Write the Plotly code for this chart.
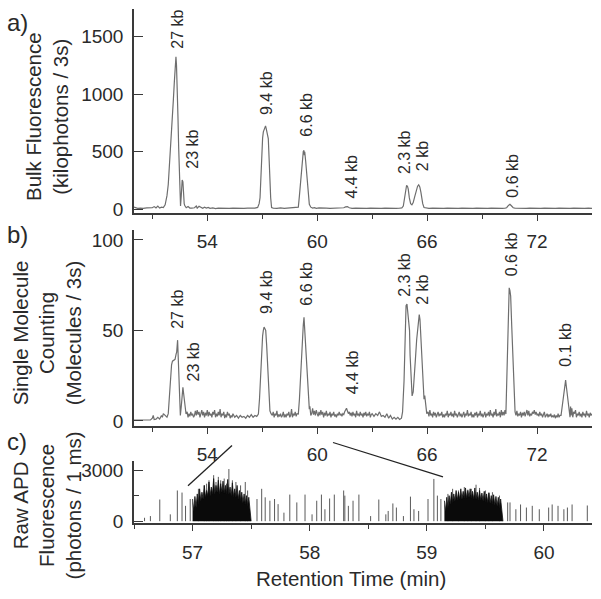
import plotly.graph_objects as go

# ---------------- data: panel a (bulk fluorescence) ----------------
T_A = [50.0, 50.1, 50.2, 50.35, 50.5, 50.7, 50.9, 51.0, 51.1, 51.2, 51.3, 51.4, 51.5, 51.6, 51.7, 51.8, 51.87, 51.94,
       52.0, 52.08, 52.15, 52.2, 52.24, 52.29, 52.32, 52.36, 52.4, 52.44, 52.48, 52.51, 52.54, 52.58, 52.63, 52.67,
       52.7, 52.74, 52.77, 52.85, 52.95, 53.05, 53.15, 53.3, 53.4, 53.45, 53.55, 53.65, 53.75, 53.85, 53.95, 54.05,
       54.15, 54.3, 54.45, 54.6, 54.8, 55.0, 55.2, 55.4, 55.6, 55.8, 56.0, 56.2, 56.4, 56.6, 56.75, 56.83, 56.88,
       56.93, 56.97, 57.02, 57.06, 57.12, 57.18, 57.22, 57.28, 57.33, 57.38, 57.42, 57.46, 57.51, 57.6, 57.8, 58.0,
       58.2, 58.4, 58.6, 58.8, 58.92, 58.97, 59.03, 59.1, 59.15, 59.2, 59.24, 59.28, 59.3, 59.32, 59.37, 59.42, 59.48,
       59.54, 59.57, 59.65, 59.75, 59.85, 59.95, 60.1, 60.3, 60.5, 60.7, 60.9, 61.1, 61.3, 61.45, 61.55, 61.65, 61.75,
       61.9, 62.1, 62.3, 62.5, 62.7, 62.9, 63.1, 63.3, 63.5, 63.7, 63.9, 64.1, 64.3, 64.5, 64.62, 64.7, 64.75, 64.79,
       64.84, 64.88, 64.93, 64.97, 65.03, 65.1, 65.17, 65.24, 65.32, 65.4, 65.48, 65.54, 65.6, 65.66, 65.7, 65.76,
       65.83, 65.95, 66.1, 66.3, 66.5, 66.7, 66.9, 67.1, 67.3, 67.5, 67.7, 67.9, 68.1, 68.3, 68.5, 68.7, 68.9, 69.1,
       69.3, 69.5, 69.7, 69.9, 70.1, 70.25, 70.34, 70.44, 70.52, 70.6, 70.7, 70.8, 71.0, 71.2, 71.4, 71.6, 71.8, 72.0,
       72.2, 72.4, 72.6, 72.8, 73.0, 73.2, 73.4, 73.6, 73.8, 74.0, 74.2, 74.4, 74.6, 74.8, 75.0]
Y_A = [20, 12, 10, 12, 10, 14, 12, 15, 25, 14, 30, 12, 20, 17, 40, 120, 216, 380,
       529, 760, 955, 1100, 1239, 1324, 1250, 1097, 800, 529, 250, 45, 30, 120, 256, 240,
       102, 50, 34, 15, 25, 12, 12, 15, 30, 12, 28, 18, 10, 20, 12, 18,
       10, 14, 8, 12, 10, 14, 10, 12, 10, 14, 10, 12, 10, 12, 18, 50, 102,
       300, 529, 620, 673, 705, 725, 700, 650, 615, 420, 220, 102, 17, 12, 10, 14,
       10, 12, 10, 12, 14, 20, 120, 270, 386, 460, 503, 512, 470, 500, 420, 330, 190,
       80, 45, 20, 12, 16, 10, 14, 10, 12, 10, 12, 10, 12, 15, 22, 25, 15,
       10, 12, 10, 14, 10, 12, 10, 12, 10, 12, 10, 12, 10, 12, 14, 30, 80, 130,
       185, 210, 200, 176, 100, 50, 40, 60, 110, 165, 202, 213, 195, 150, 102, 50,
       17, 12, 10, 12, 10, 12, 10, 12, 10, 12, 10, 12, 10, 12, 10, 12, 10, 12,
       10, 12, 10, 12, 10, 12, 15, 35, 45, 32, 15, 12, 10, 12, 10, 12, 10, 12,
       10, 12, 10, 12, 10, 12, 10, 12, 10, 12, 10, 12, 10, 12, 10]

# ---------------- data: panel b (single molecule counting) ----------------
T_B = [50.0, 50.3, 50.6, 50.9, 51.0, 51.05, 51.1, 51.2, 51.3, 51.4, 51.5, 51.55, 51.6, 51.7, 51.8, 51.87, 51.93,
       52.0, 52.05, 52.1, 52.17, 52.24, 52.3, 52.33, 52.38, 52.42, 52.46, 52.5, 52.53, 52.58, 52.62, 52.67, 52.71,
       52.75, 52.8, 52.84, 52.9, 52.95, 53.0, 53.05, 53.1, 53.15, 53.2, 53.25, 53.3, 53.35, 53.4, 53.45, 53.5,
       53.55, 53.6, 53.65, 53.7, 53.75, 53.8, 53.85, 53.9, 53.95, 54.0, 54.05, 54.1, 54.15, 54.2, 54.25, 54.3,
       54.35, 54.4, 54.45, 54.5, 54.55, 54.6, 54.65, 54.7, 54.75, 54.8, 54.85, 54.9, 54.95, 55.0, 55.05, 55.1,
       55.15, 55.2, 55.25, 55.3, 55.35, 55.4, 55.5, 55.6, 55.7, 55.8, 55.9, 56.0, 56.1, 56.2, 56.3, 56.4, 56.5,
       56.6, 56.7, 56.79, 56.85, 56.91, 56.96, 57.02, 57.06, 57.1, 57.14, 57.19, 57.24, 57.29, 57.35, 57.42,
       57.48, 57.55, 57.6, 57.65, 57.7, 57.75, 57.8, 57.85, 57.9, 57.95, 58.0, 58.05, 58.1, 58.15, 58.2, 58.25,
       58.3, 58.35, 58.4, 58.45, 58.5, 58.55, 58.6, 58.65, 58.7, 58.75, 58.8, 58.85, 58.9, 58.97, 59.03, 59.1,
       59.15, 59.2, 59.24, 59.28, 59.31, 59.35, 59.4, 59.46, 59.52, 59.57, 59.6, 59.65, 59.7, 59.75, 59.8,
       59.85, 59.9, 59.95, 60.0, 60.05, 60.1, 60.15, 60.2, 60.25, 60.3, 60.35, 60.4, 60.45, 60.5, 60.55, 60.6,
       60.65, 60.7, 60.75, 60.8, 60.85, 60.9, 60.95, 61.0, 61.05, 61.1, 61.15, 61.2, 61.25, 61.3, 61.35, 61.4,
       61.45, 61.5, 61.55, 61.6, 61.65, 61.7, 61.75, 61.8, 61.85, 61.9, 61.95, 62.0, 62.05, 62.1, 62.15, 62.2,
       62.25, 62.3, 62.35, 62.4, 62.45, 62.5, 62.55, 62.6, 62.65, 62.7, 62.75, 62.8, 62.85, 62.9, 62.95, 63.0,
       63.1, 63.2, 63.3, 63.4, 63.5, 63.6, 63.7, 63.8, 63.9, 64.0, 64.1, 64.2, 64.3, 64.4, 64.5, 64.6, 64.66,
       64.74, 64.8, 64.85, 64.9, 64.95, 65.0, 65.04, 65.07, 65.12, 65.18, 65.24, 65.29, 65.36, 65.43, 65.49,
       65.53, 65.57, 65.61, 65.66, 65.72, 65.76, 65.8, 65.83, 65.87, 65.9, 65.95, 65.98, 66.05, 66.1, 66.15,
       66.2, 66.25, 66.3, 66.35, 66.4, 66.45, 66.5, 66.55, 66.6, 66.65, 66.7, 66.75, 66.8, 66.85, 66.9, 66.95,
       67.0, 67.05, 67.1, 67.15, 67.2, 67.25, 67.3, 67.35, 67.4, 67.45, 67.5, 67.55, 67.6, 67.65, 67.7, 67.75,
       67.8, 67.85, 67.9, 67.95, 68.0, 68.05, 68.1, 68.15, 68.2, 68.25, 68.3, 68.35, 68.4, 68.45, 68.5, 68.55,
       68.6, 68.65, 68.7, 68.75, 68.8, 68.85, 68.9, 68.95, 69.0, 69.05, 69.1, 69.15, 69.2, 69.25, 69.3, 69.35,
       69.4, 69.45, 69.5, 69.55, 69.6, 69.65, 69.7, 69.75, 69.8, 69.85, 69.9, 69.95, 70.0, 70.05, 70.1, 70.15,
       70.2, 70.25, 70.3, 70.35, 70.39, 70.44, 70.48, 70.52, 70.56, 70.62, 70.67, 70.72, 70.76, 70.8, 70.85,
       70.9, 70.95, 71.0, 71.05, 71.1, 71.15, 71.2, 71.25, 71.3, 71.35, 71.4, 71.45, 71.5, 71.55, 71.6, 71.65,
       71.7, 71.75, 71.8, 71.85, 71.9, 71.95, 72.0, 72.05, 72.1, 72.15, 72.2, 72.25, 72.3, 72.35, 72.4, 72.45,
       72.5, 72.55, 72.6, 72.65, 72.7, 72.75, 72.8, 72.85, 72.9, 72.95, 73.0, 73.05, 73.1, 73.15, 73.2, 73.25,
       73.31, 73.38, 73.43, 73.47, 73.52, 73.56, 73.6, 73.65, 73.7, 73.76, 73.8, 73.83, 73.86, 73.9, 73.95,
       74.0, 74.05, 74.1, 74.15, 74.2, 74.25, 74.3, 74.35, 74.4, 74.45, 74.5, 74.55, 74.6, 74.65, 74.7, 74.75,
       74.8, 74.85, 74.9, 74.95, 75.0]
Y_B = [0.5, 0.5, 0.8, 0.5, 1.5, 3, 0.8, 1, 2, 1, 3, 2, 4, 3, 2, 4, 15,
       27, 31, 33, 33.5, 34, 37, 38, 44.6, 35, 25.5, 10, 3, 8, 14.7, 18.6, 15,
       11, 6, 3.8, 5, 2, 4, 2.5, 5, 3, 4, 2, 3, 5.5, 3, 6, 3.5,
       5, 2, 4, 6, 3, 5, 2, 4.5, 3, 6, 2.5, 5, 3, 4, 2, 5,
       3.5, 6, 2, 4, 2.5, 5, 3, 6.5, 2, 4, 3, 5, 1.5, 3.5, 2, 5,
       3, 4, 1.5, 3, 2, 4, 2, 3, 1.5, 3, 2, 2.5, 1.5, 3, 2, 3.5, 2,
       3, 2.5, 3.8, 12, 25.5, 37, 47, 50, 51.8, 51, 50, 42, 31, 16, 5.6,
       4, 3, 5, 2, 4, 3, 5.5, 2, 3.5, 2.5, 4, 2, 3, 5, 2, 3.5,
       2, 4, 3, 5, 2, 3, 6.5, 2, 4, 3, 5, 2.5, 4, 3.8, 12, 25.5,
       40, 51, 53, 57.2, 52, 47, 36, 22, 12, 6.5, 8, 3, 4, 7, 3.5,
       5.5, 3, 6, 4, 2.5, 5, 3, 6, 3.5, 5, 2, 4.5, 3, 5.5, 2.5, 4,
       3, 5, 2, 4, 3, 5, 2.5, 3.5, 2, 4, 3, 5, 3, 4, 2.5, 4,
       3.5, 5, 6, 7, 5.5, 4, 5, 3, 4.5, 2.5, 5, 3, 4, 2, 5.5, 3,
       4, 2.5, 5, 3, 4, 2, 4.5, 3, 5, 2.5, 4, 3, 5, 2, 3.5, 4,
       2.5, 4, 3, 5, 2.5, 3, 2, 4, 1.5, 3, 1, 2, 1, 2, 0.8, 1.5, 5,
       22, 45, 63.6, 64.5, 60, 54.5, 50, 36.4, 22, 13.8, 16, 22, 34, 45, 53,
       58, 58.7, 56, 46, 36, 25, 13, 12, 14, 10, 6, 4, 5, 2.5, 6,
       3, 4, 2, 5, 3, 4.5, 2, 3.5, 5, 2.5, 4, 3, 5, 2, 3.5, 2,
       4, 3, 5.5, 2, 4, 3, 5, 2.5, 4, 2, 5.5, 3, 4, 2, 3.5, 5,
       2.5, 4, 2, 3.5, 5, 2, 4, 3, 6, 2.5, 4, 3, 5, 2, 3.5, 2,
       4.5, 3, 5, 2, 4, 3, 5.5, 2.5, 4, 2, 3.5, 5, 2, 4, 3, 5,
       2.5, 6, 3, 4, 2, 5, 3, 6.5, 2.5, 4, 3, 5, 2, 6, 3, 5,
       3, 6, 3.8, 20, 40, 60, 73.5, 72, 69, 52, 36, 20, 10, 5, 3,
       5.5, 2.5, 4, 3, 5, 2, 4.5, 3, 5, 2.5, 4, 6, 3, 5.5, 2.5, 4,
       3, 5, 4, 6, 3.5, 5, 3, 4, 2.5, 5, 3, 4, 2, 3.5, 5, 2,
       3, 4, 2, 3.5, 2.5, 4, 2, 3, 2, 3.5, 1.5, 3, 2, 4, 2, 3,
       3, 9, 14, 16.5, 20, 22.5, 19, 14.7, 9, 6, 2, 8, 3, 7, 2,
       5, 4, 6, 2, 4, 3, 5, 2.5, 4, 2, 5, 3, 4, 2, 5.5, 3,
       4, 2, 4.5, 3, 4]

# ---------------- data: panel c (raw APD photon bursts) ----------------
DENSE1_T = [57.00, 57.01, 57.02, 57.03, 57.04, 57.05, 57.06, 57.07, 57.08, 57.09, 57.10, 57.11, 57.12, 57.13,
            57.14, 57.15, 57.16, 57.17, 57.18, 57.19, 57.20, 57.21, 57.22, 57.23, 57.24, 57.25, 57.26, 57.27,
            57.28, 57.29, 57.30, 57.31, 57.32, 57.33, 57.34, 57.35, 57.36, 57.37, 57.38, 57.39, 57.40, 57.41,
            57.42, 57.43, 57.44, 57.45, 57.46, 57.47, 57.48, 57.49, 57.50]
DENSE1_H = [1300, 600, 1450, 800, 1600, 1000, 1900, 1200, 1700, 1300, 2100, 1400, 1800, 1500,
            2300, 1500, 2000, 1600, 2500, 1600, 2100, 1700, 2400, 1600, 2200, 1700, 2350, 1650,
            2100, 1600, 2450, 1600, 2000, 1500, 2250, 1450, 1900, 1400, 2100, 1300, 1800, 1200,
            1700, 1100, 1600, 1000, 1500, 900, 1400, 700, 0]
DENSE2_T = [59.15, 59.16, 59.17, 59.18, 59.19, 59.20, 59.21, 59.22, 59.23, 59.24, 59.25, 59.26, 59.27, 59.28,
            59.29, 59.30, 59.31, 59.32, 59.33, 59.34, 59.35, 59.36, 59.37, 59.38, 59.39, 59.40, 59.41, 59.42,
            59.43, 59.44, 59.45, 59.46, 59.47, 59.48, 59.49, 59.50, 59.51, 59.52, 59.53, 59.54, 59.55, 59.56,
            59.57, 59.58, 59.59, 59.60, 59.61, 59.62, 59.63, 59.64, 59.65]
DENSE2_H = [1200, 600, 1400, 800, 1500, 1000, 1700, 1100, 1600, 1200, 1800, 1250, 1700, 1300,
            1900, 1300, 1750, 1350, 1950, 1350, 1800, 1400, 1900, 1350, 1750, 1300, 1950, 1300,
            1700, 1250, 1800, 1250, 1650, 1200, 1750, 1150, 1600, 1100, 1650, 1050, 1500, 1000,
            1550, 950, 1450, 900, 1400, 800, 1300, 700, 0]
SPIKE_T = [56.59, 56.64, 56.72, 56.81, 56.87, 56.91, 56.94, 56.98,
           57.05, 57.10, 57.12, 57.14, 57.18, 57.20, 57.22, 57.24, 57.27, 57.29, 57.31, 57.34, 57.37, 57.41,
           57.45, 57.47,
           57.55, 57.59, 57.62, 57.66, 57.70, 57.73, 57.78, 57.83, 57.89, 57.96, 58.02, 58.06, 58.10, 58.13,
           58.17, 58.21, 58.29, 58.30, 58.33, 58.37, 58.42, 58.52, 58.59, 58.65, 58.67, 58.71, 58.74, 58.80,
           58.86, 58.89, 58.93, 59.01, 59.06, 59.09, 59.12,
           59.18, 59.22, 59.27, 59.32, 59.35, 59.38, 59.42, 59.45, 59.50, 59.53, 59.56, 59.62,
           59.69, 59.71, 59.76, 59.80, 59.85, 59.90, 59.96, 60.04, 60.07, 60.12, 60.17, 60.20, 60.24, 60.37]
SPIKE_H = [200, 300, 1270, 400, 1800, 1680, 900, 1300,
           1900, 2100, 2200, 2400, 2700, 2300, 2600, 2400, 2500, 2200, 3060, 2400, 2300, 2100,
           2300, 1800,
           1300, 1900, 1400, 1200, 1300, 1000, 500, 1560, 1100, 1560, 400, 1200, 1560, 700,
           1330, 1560, 1800, 1500, 900, 1200, 1560, 300, 1270, 400, 600, 1040, 800, 300,
           1440, 700, 600, 1300, 2480, 1500, 1300,
           1600, 1900, 1800, 2000, 1850, 1900, 2140, 1950, 1800, 1700, 1700, 1500,
           1100, 1100, 700, 980, 800, 900, 700, 800, 980, 900, 700, 800, 980, 920]

# ---------------- tick / label data ----------------
TOP_TICKS = [54, 60, 66, 72]
TOP_MINOR = [51, 57, 63, 69]
C_TICKS = [57, 58, 59, 60]
C_MINOR = [56.5, 57.5, 58.5, 59.5]
A_YTICKS = [0, 500, 1000, 1500]
B_YTICKS = [0, 50, 100]
C_YTICKS = [0, 3000]

LABELS_A = ["27 kb", "23 kb", "9.4 kb", "6.6 kb", "4.4 kb", "2.3 kb", "2 kb", "0.6 kb"]
LAB_A_T = [52.40, 53.22, 57.20, 59.44, 61.90, 64.74, 65.72, 70.69]
LAB_A_Y = [1381, 341, 801, 614, 77, 290, 315, 85]
LABELS_B = ["27 kb", "23 kb", "9.4 kb", "6.6 kb", "4.4 kb", "2.3 kb", "2 kb", "0.6 kb", "0.1 kb"]
LAB_B_T = [52.40, 53.22, 57.26, 59.44, 61.90, 64.79, 65.77, 70.58, 73.58]
LAB_B_Y = [50, 21, 58, 62.5, 13.6, 67.4, 63, 78.8, 28.8]

W, H = 601, 599
FONT = "Liberation Sans, Arial, sans-serif"
TXT = "#2a2a2a"
AX = "#3a3a3a"
TRACE = "#6e6e6e"


def px(x):
    return x / W


def py(y):
    return 1 - y / H


fig = go.Figure()
fig.add_trace(go.Scatter(x=T_A, y=Y_A, mode="lines", line=dict(color=TRACE, width=1.2),
                         xaxis="x", yaxis="y", showlegend=False))
fig.add_trace(go.Scatter(x=T_B, y=Y_B, mode="lines", line=dict(color=TRACE, width=1.2),
                         xaxis="x2", yaxis="y2", showlegend=False))

# spikes in panel c
sx, sy = [], []
for t, h in zip(SPIKE_T, SPIKE_H):
    sx += [t, t, None]
    sy += [0, h, None]
fig.add_trace(go.Scatter(x=sx, y=sy, mode="lines", line=dict(color="#5a5a5a", width=1),
                         xaxis="x3", yaxis="y3", showlegend=False))
for dt, dh in ((DENSE1_T, DENSE1_H), (DENSE2_T, DENSE2_H)):
    fig.add_trace(go.Scatter(x=dt, y=dh, mode="lines", fill="tozeroy", fillcolor="#0a0a0a",
                             line=dict(color="#111111", width=0.8), xaxis="x3", yaxis="y3",
                             showlegend=False))

tickfont = dict(family=FONT, size=19, color=TXT)
common_x = dict(showline=True, linecolor=AX, linewidth=2, ticks="outside", tickcolor=AX, tickwidth=1.3,
                ticklen=6, showgrid=False, zeroline=False, tickfont=tickfont)
common_y = dict(showline=True, linecolor=AX, linewidth=1.5, ticks="inside", tickcolor=AX, tickwidth=1.3,
                ticklen=9, showgrid=False, zeroline=False, tickfont=tickfont, ticklabelstandoff=5)

fig.update_layout(
    width=W, height=H, margin=dict(l=0, r=0, t=0, b=0),
    paper_bgcolor="white", plot_bgcolor="white",
    xaxis=dict(domain=[px(134), px(592)], range=[50, 75], anchor="y", tickvals=TOP_TICKS,
               minor=dict(tickvals=TOP_MINOR, ticks="outside", ticklen=4, tickcolor=AX, tickwidth=1.3),
               ticklabelstandoff=4, **common_x),
    yaxis=dict(domain=[py(216), py(8)], range=[-34, 1740], anchor="x", tickvals=A_YTICKS, **common_y),
    xaxis2=dict(domain=[px(134), px(592)], range=[50, 75], anchor="y2", tickvals=TOP_TICKS,
                minor=dict(tickvals=TOP_MINOR, ticks="outside", ticklen=4, tickcolor=AX, tickwidth=1.3),
                ticklabelstandoff=4, **common_x),
    yaxis2=dict(domain=[py(432), py(233)], range=[-2.7, 105.4], anchor="x2", tickvals=B_YTICKS, **common_y),
    xaxis3=dict(domain=[px(134), px(592)], range=[56.5, 60.41], anchor="y3", tickvals=C_TICKS,
                minor=dict(tickvals=C_MINOR, ticks="outside", ticklen=4, tickcolor=AX, tickwidth=1.3),
                ticklabelstandoff=5, **common_x),
    yaxis3=dict(domain=[py(531), py(468)], range=[-115, 3520], anchor="x3", tickvals=C_YTICKS,
                minor=dict(tickvals=[1500], ticks="inside", ticklen=5, tickcolor=AX, tickwidth=1.3),
                **common_y),
)

ann = []
lab_font = dict(family=FONT, size=16, color=TXT)
for lab, t, y in zip(LABELS_A, LAB_A_T, LAB_A_Y):
    ann.append(dict(text=lab, x=t, y=y, xref="x", yref="y", textangle=-90, showarrow=False,
                    xanchor="center", yanchor="bottom", font=lab_font))
for lab, t, y in zip(LABELS_B, LAB_B_T, LAB_B_Y):
    ann.append(dict(text=lab, x=t, y=y, xref="x2", yref="y2", textangle=-90, showarrow=False,
                    xanchor="center", yanchor="bottom", font=lab_font))

title_font = dict(family=FONT, size=20.5, color=TXT)
for txt, yc in (("Bulk Fluorescence<br>(kilophotons / 3s)", 118),
                ("Single Molecule<br>Counting<br>(Molecules / 3s)", 338),
                ("Raw APD<br>Fluorescence<br>(photons / 1 ms)", 513)):
    ann.append(dict(text=txt, x=px(47), y=py(yc), xref="paper", yref="paper", textangle=-90,
                    showarrow=False, xanchor="center", yanchor="middle", align="center", font=title_font))

panel_font = dict(family=FONT, size=24, color=TXT)
for txt, yc in (("a)", 22), ("b)", 237), ("c)", 448)):
    ann.append(dict(text=txt, x=px(5), y=py(yc), xref="paper", yref="paper", showarrow=False,
                    xanchor="left", yanchor="middle", font=panel_font))

ann.append(dict(text="Retention Time (min)", x=px(351), y=py(587), xref="paper", yref="paper",
                showarrow=False, xanchor="center", yanchor="middle", font=title_font))
fig.update_layout(annotations=ann)

fig.update_layout(shapes=[
    dict(type="line", xref="paper", yref="paper", x0=px(188), y0=py(493), x1=px(232), y1=py(452),
         line=dict(color="#222222", width=1.3)),
    dict(type="line", xref="paper", yref="paper", x0=px(333), y0=py(449), x1=px(443), y1=py(484),
         line=dict(color="#222222", width=1.3)),
])

fig.write_html("out.html", config={"displayModeBar": False},
               post_script="document.body.style.margin='0';document.body.style.overflow='hidden';")
